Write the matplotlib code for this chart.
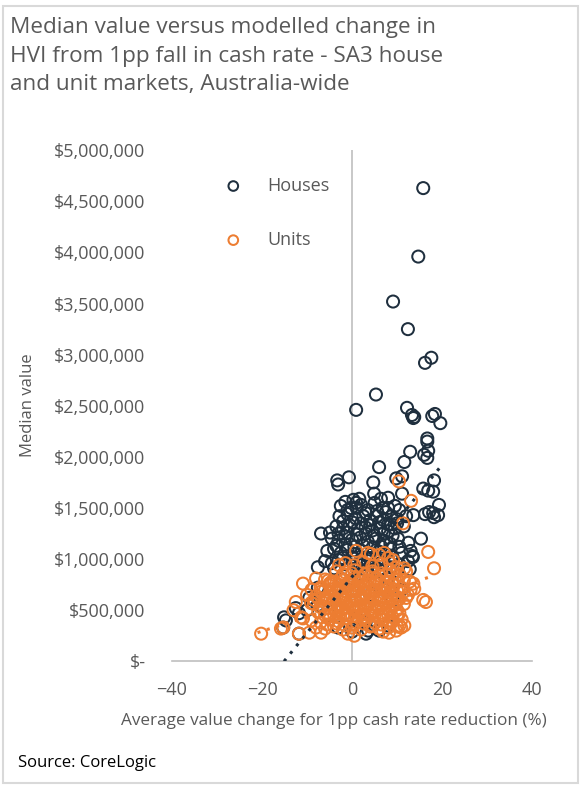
import numpy as np
import matplotlib.pyplot as plt
from matplotlib.patches import Rectangle
from matplotlib.ticker import FuncFormatter

plt.rcParams['font.family'] = ['Open Sans', 'DejaVu Sans']

# Casas: cambio (%) y valor mediano ($ miles)
casas_x = [15.8, 14.7, 9.1, 12.4, 17.6, 16.2, 5.3, 0.9, 12.2, 13.3, 13.6, 13.8, 17.8, 18.4, 19.6,
           16.7, 16.7, 16.9, 16.0, 16.7, 12.9, 11.6, 6.0, -3.3, -3.1, -0.7, 4.7, 9.8, 11.1, 18.2,
           15.8, 16.9, 18.0, 11.1, 19.3, 17.1, 18.0, 19.1, 18.2, 16.2, 13.6, 8.7, 15.3, 4.9, 6.4,
           8.0, 1.6, 0.9, -0.2, -6.9, -4.9, -7.6, -4.0, -7.6, -15.3, -14.7, -15.1, -11.8, -11.8,
           -8.8, -7.6, -3.1, 3.1, 3.6, 13.0, 13.4, 12.4,
           -2.5, -1.5, 0.3, 2.0, 3.5, 5.0, 6.8, 7.5, 9.5, 10.5,
           -2.8, -1.0, 0.8, 2.5, 4.0, 5.5, 7.0, 8.8, 10.0, 12.0,
           -3.5, -2.0, -0.5, 1.2, 3.0, 4.5, 6.2, 8.0, 9.5, 11.5,
           -4.5, -3.0, -1.5, 0.0, 1.8, 3.5, 5.2, 7.0, 8.5, 10.2, 12.5,
           -5.5, -4.0, -2.5, -1.0, 0.5, 2.2, 4.0, 5.8, 7.5, 9.0, 11.0, 13.5,
           -6.0, -4.5, -3.0, -1.5, 0.2, 1.8, 3.5, 5.0, 6.8, 8.5, 10.5, 12.8,
           -2.0, 2.0, 5.0, 8.0, 10.0, 0.0, 4.0, 7.0, -4.0, 9.0, 11.0, -9.5, -12.5, -10.0,
           -5.0, 0.0, 6.0, 8.0, 1.0, 3.0,
           -1.0, 1.0, 3.0, 5.5, 8.0,
           -2.0, 0.0, 2.0, 4.0, 6.0, 8.0, 10.0,
           -3.0, -1.0, 1.0, 3.0, 5.0, 7.0, 9.0,
           -3.5, -1.5, 0.5, 2.5, 4.5, 6.5, 8.5, 10.5,
           -2.0, 0.0, 2.0, 4.0, 6.0, 8.0,
           -1.0, 1.0, 3.0, 6.0]
casas_y = [4630, 3960, 3520, 3250, 2970, 2920, 2610, 2460, 2480, 2410, 2380, 2390, 2400, 2420, 2330,
           2180, 2150, 2060, 2020, 1990, 2050, 1950, 1900, 1770, 1730, 1800, 1750, 1790, 1810, 1770,
           1690, 1670, 1660, 1640, 1530, 1460, 1450, 1430, 1410, 1440, 1430, 1340, 1200, 1640, 1590,
           1600, 1590, 1550, 1500, 1250, 1260, 920, 910, 720, 330, 400, 430, 270, 470,
           570, 550, 330, 270, 300, 1080, 1030, 980,
           1520, 1560, 1580, 1530, 1480, 1550, 1500, 1460, 1520, 1480,
           1420, 1440, 1400, 1420, 1380, 1420, 1380, 1420, 1390, 1420,
           1320, 1300, 1330, 1290, 1310, 1280, 1300, 1270, 1300, 1320,
           1200, 1180, 1220, 1190, 1210, 1170, 1200, 1180, 1150, 1200, 1160,
           1080, 1100, 1060, 1090, 1050, 1080, 1040, 1070, 1050, 1020, 1060, 1020,
           980, 960, 990, 950, 970, 940, 980, 930, 960, 920, 950, 900,
           800, 850, 780, 820, 880, 700, 650, 700, 600, 600, 700, 620, 520, 500,
           450, 290, 300, 350, 420, 380,
           1480, 1500, 1450, 1470, 1500,
           1370, 1360, 1350, 1330, 1360, 1340, 1350,
           1250, 1260, 1240, 1250, 1230, 1250, 1230,
           1130, 1140, 1120, 1130, 1110, 1120, 1100, 1120,
           1010, 1020, 1000, 1010, 990, 1000,
           900, 910, 890, 900]

# Unidades
unidades_x = [10.4, 13.1, 11.3, 16.9, 18.2, 15.8, 16.4, -10.9, -8.0, -20.2, -15.8, -15.3, -11.3, -10.9,
              -11.8, -9.1, -8.4, -6.9, -9.5, -5.3, -2.9, -0.9, 11.6, 10.9, 9.8, 8.2, 6.9, 0.5,
              13.6, 13.8, 12.4, 12.8, 11.5, 11.6,
              0.9, 3.5, 4.2, 6.0, 7.1, 8.0, 9.1,
              -1.5, 0.5, 2.5, 4.5, 6.5, 8.5, 10.0,
              -3.5, -1.5, 0.5, 2.5, 4.5, 6.5, 8.5, 10.5, 12.0,
              -6.0, -4.5, -2.5, -0.5, 1.5, 3.5, 5.5, 7.5, 9.5, 11.5,
              -7.0, -5.0, -3.0, -1.0, 1.0, 3.0, 5.0, 7.0, 9.0, 11.0, 13.0,
              -8.0, -6.0, -4.0, -2.0, 0.0, 2.0, 4.0, 6.0, 8.0, 10.0, 12.0,
              -8.5, -6.5, -4.5, -2.5, -0.5, 1.5, 3.5, 5.5, 7.5, 9.5, 11.5,
              -7.5, -5.5, -3.5, -1.5, 0.5, 2.5, 4.5, 6.5, 8.5, 10.5,
              -9.0, -7.0, -5.0, -3.0, -1.0, 1.0, 3.0, 5.0, 7.0, 9.0, 11.0,
              -8.0, -6.0, -4.0, -2.0, 0.0, 2.0, 4.0, 6.0, 8.0, 10.0,
              -5.0, -3.0, -1.0, 1.0, 3.0, 5.0, 7.0, 9.0,
              -4.0, -2.0, 0.0, 2.0, 4.0, 6.0, 8.0, 10.0,
              -6.0, -4.0, -2.0, 0.0, 2.0, 4.0, 6.0, 8.0, 10.0,
              -7.0, -5.0, -3.0, -1.0, 1.0, 3.0, 5.0, 7.0, 9.0,
              -5.0, -3.0, -1.0, 1.0, 3.0, 5.0, 7.0, 9.0,
              -5.5, -3.5, -1.5, 0.5, 2.5, 4.5, 6.5, 8.5, 10.5,
              -6.0, -4.0, -2.0, 0.0, 2.0, 4.0, 6.0, 8.0, 10.0,
              -7.0, -5.0, -3.0, -1.0, 1.0, 3.0, 5.0, 7.0, 9.0,
              -7.5, -5.5, -3.5, -1.5, 0.5, 2.5, 4.5, 6.5, 8.5, 10.5,
              -6.0, -4.0, -2.0, 0.0, 2.0, 4.0, 6.0, 8.0, 10.0,
              -4.0, -2.0, 0.0, 2.0, 4.0, 6.0, 8.0, 10.0,
              -2.0, 0.0, 1.5, 3.0, 4.5, 6.0, 7.5, 9.0,
              -12.5, -13.0, -10.0, -9.0]
unidades_y = [1760, 1570, 1350, 1070, 910, 600, 580, 760, 810, 270, 320, 330, 430, 420,
              270, 570, 600, 280, 280, 790, 940, 270, 350, 330, 300, 280, 290, 250,
              760, 710, 650, 780, 680, 910,
              1080, 1060, 1050, 1040, 1060, 1010, 990,
              960, 940, 970, 930, 950, 960, 920,
              880, 870, 890, 860, 880, 860, 890, 850, 880,
              800, 780, 810, 790, 820, 790, 810, 780, 800, 790,
              720, 740, 710, 730, 700, 720, 700, 730, 710, 720, 700,
              640, 620, 650, 630, 660, 620, 640, 620, 650, 630, 620,
              560, 540, 570, 550, 580, 540, 560, 540, 570, 550, 560,
              480, 460, 490, 470, 500, 460, 480, 460, 490, 470,
              400, 380, 410, 390, 420, 380, 400, 380, 410, 390, 410,
              330, 320, 340, 310, 330, 310, 340, 320, 330, 340,
              440, 430, 450, 440, 430, 450, 440, 430,
              520, 510, 520, 500, 510, 520, 510, 500,
              600, 590, 600, 590, 600, 590, 600, 580, 590,
              680, 670, 690, 670, 680, 660, 680, 670, 660,
              760, 750, 760, 740, 750, 760, 740, 750,
              360, 370, 350, 360, 370, 350, 360, 370, 350,
              450, 460, 450, 440, 460, 450, 440, 460, 450,
              530, 520, 540, 530, 520, 540, 530, 520, 540,
              610, 600, 620, 610, 600, 620, 610, 600, 620, 610,
              700, 710, 690, 700, 710, 690, 700, 710, 690,
              780, 790, 770, 780, 790, 770, 780, 790,
              850, 860, 840, 850, 860, 840, 850, 860,
              580, 500, 650, 700]

# Tendencias lineales (pendiente en $ miles por punto, punto de partida)
tendencia_casas = {'x0': -15.1, 'x1': 19.6, 'y0': 0, 'pendiente': 54.8}
tendencia_unidades = {'x0': -21.0, 'x1': 18.0, 'y0': 280, 'pendiente': 14.25}

color_casas = '#1f2f3e'
color_unidades = '#ed7d31'
gris = '#595959'

fig = plt.figure(figsize=(5.81, 7.91), dpi=100)
ax = fig.add_axes([0.296, 0.164, 0.62, 0.646])

ax.scatter(casas_x, np.array(casas_y) * 1000, s=75, facecolors='none',
           edgecolors=color_casas, linewidths=1.45, label='Houses', zorder=3)
ax.scatter(unidades_x, np.array(unidades_y) * 1000, s=75, facecolors='none',
           edgecolors=color_unidades, linewidths=1.45, label='Units', zorder=4)

for t, col in [(tendencia_casas, color_casas), (tendencia_unidades, color_unidades)]:
    xs = np.array([t['x0'], t['x1']])
    ys = (t['y0'] + t['pendiente'] * (xs - t['x0'])) * 1000
    ax.plot(xs, ys, linestyle=(0, (1, 2.2)), color=col, lw=2.2, zorder=5)

ax.set_xlim(-40, 40)
ax.set_ylim(0, 5e6)
ax.axvline(0, color='#bfbfbf', lw=1.2, zorder=1)
for s in ['top', 'right', 'left']:
    ax.spines[s].set_visible(False)
ax.spines['bottom'].set_color('#bfbfbf')
ax.spines['bottom'].set_linewidth(1.2)

ax.set_xticks([-40, -20, 0, 20, 40])
ax.set_yticks(np.arange(0, 5.0e6 + 1, 5e5))
ax.yaxis.set_major_formatter(FuncFormatter(lambda v, p: '$-' if v == 0 else f'${v:,.0f}'))
ax.tick_params(axis='both', length=0, labelsize=13, colors=gris)
ax.tick_params(axis='y', pad=19)
ax.tick_params(axis='x', pad=14)

leg = ax.legend(loc='upper left', bbox_to_anchor=(0.075, 0.98), frameon=False, fontsize=13,
                labelspacing=2.0, handletextpad=0.9, markerscale=0.8)
for txt in leg.get_texts():
    txt.set_color(gris)

fig.text(0.017, 0.978, 'Median value versus modelled change in\nHVI from 1pp fall in cash rate - SA3 house\nand unit markets, Australia-wide',
         fontsize=16.2, color=gris, va='top', ha='left', linespacing=1.45)
fig.text(0.048, 0.488, 'Median value', rotation=90, fontsize=12, color=gris, va='center', ha='center')
fig.text(0.575, 0.089, 'Average value change for 1pp cash rate reduction (%)', fontsize=12.3,
         color=gris, va='center', ha='center')
fig.text(0.031, 0.036, 'Source: CoreLogic', fontsize=12, color='black', va='center', ha='left')

fig.patches.append(Rectangle((0.005, 0.01), 0.989, 0.983, transform=fig.transFigure,
                             fill=False, edgecolor='#d9d9d9', lw=1.5))

fig.savefig('out.png', dpi=100)
